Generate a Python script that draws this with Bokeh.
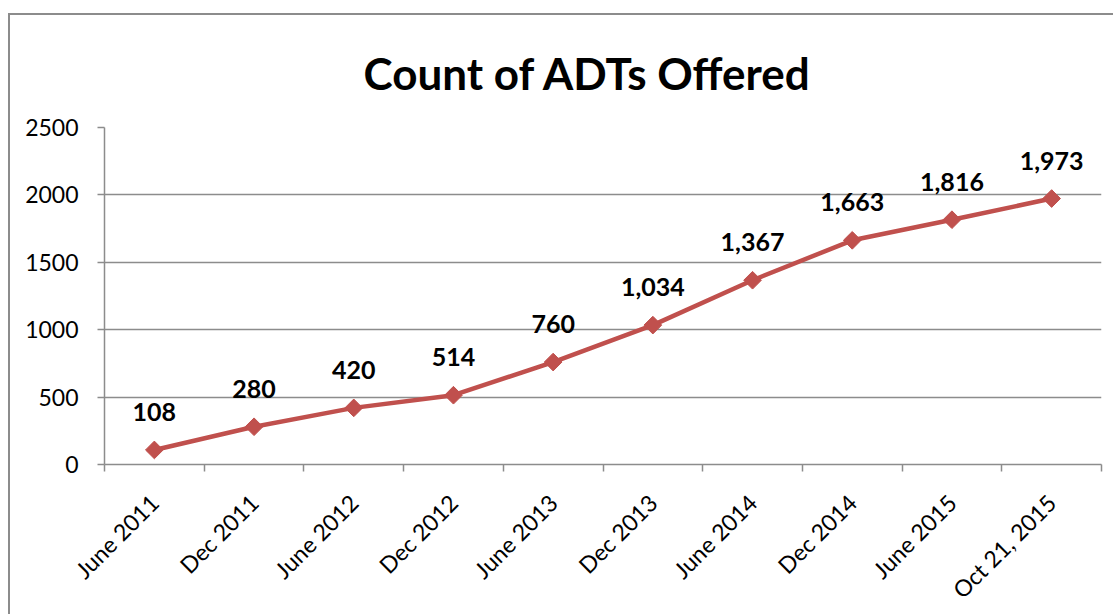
import math
from bokeh.plotting import figure
from bokeh.models import ColumnDataSource, FixedTicker, Range1d, Title
from bokeh.core.properties import value
from bokeh.embed import file_html
from bokeh.resources import INLINE

categories = ["June 2011", "Dec 2011", "June 2012", "Dec 2012", "June 2013",
              "Dec 2013", "June 2014", "Dec 2014", "June 2015", "Oct 21, 2015"]
counts = [108, 280, 420, 514, 760, 1034, 1367, 1663, 1816, 1973]
y_ticks = [0, 500, 1000, 1500, 2000, 2500]
title_text = "Count of ADTs Offered"

FONT = "Lato"
RED = "#C0504D"
GREY = "#8C8C8C"

xs = list(range(len(categories)))
src = ColumnDataSource(dict(
    x=xs, y=counts, label=[f"{c:,}" for c in counts]))

p = figure(width=1105, height=601, output_backend="svg", toolbar_location=None,
           x_range=Range1d(-0.5, len(categories) - 0.5),
           y_range=Range1d(0, 2500),
           min_border_left=94, min_border_right=14, min_border_top=111,
           min_border_bottom=151)

t = Title(text=title_text, align="left", offset=259, text_font=FONT,
          text_font_size="44px", text_font_style="bold", text_color="black",
          standoff=58)
p.add_layout(t, "above")

p.outline_line_color = None
p.background_fill_color = "white"
p.border_fill_color = "white"

# axes
p.xaxis.ticker = FixedTicker(ticks=xs, minor_ticks=[i - 0.5 for i in range(len(categories) + 1)])
p.xaxis.major_label_overrides = {i: c for i, c in enumerate(categories)}
p.xaxis.major_label_orientation = math.pi / 4
p.xaxis.major_tick_out = 0
p.xaxis.major_tick_in = 0
p.xaxis.minor_tick_out = 7
p.xaxis.minor_tick_in = 0
p.xaxis.minor_tick_line_color = GREY
p.xaxis.minor_tick_line_width = 1.5
p.xaxis.axis_line_color = GREY
p.xaxis.axis_line_width = 1.5
p.xaxis.major_label_text_font = FONT
p.xaxis.major_label_text_font_size = "23px"
p.xaxis.major_label_text_color = "black"
p.xaxis.major_label_standoff = 27

p.yaxis.ticker = FixedTicker(ticks=y_ticks, minor_ticks=[])
p.yaxis.major_tick_out = 7
p.yaxis.major_tick_in = 0
p.yaxis.major_tick_line_color = GREY
p.yaxis.major_tick_line_width = 1.5
p.yaxis.axis_line_color = GREY
p.yaxis.axis_line_width = 1.5
p.yaxis.major_label_text_font = FONT
p.yaxis.major_label_text_font_size = "23px"
p.yaxis.major_label_text_color = "black"
p.yaxis.major_label_standoff = 19

p.xgrid.grid_line_color = None
p.ygrid.ticker = FixedTicker(ticks=y_ticks)
p.ygrid.grid_line_color = GREY
p.ygrid.grid_line_width = 1.5

p.line("x", "y", source=src, line_color=RED, line_width=4.5)
p.scatter("x", "y", source=src, marker="square", angle=math.pi / 4, size=12.5,
          fill_color=RED, line_color=RED)
p.text("x", "y", text="label", source=src, y_offset=-38, text_align="center",
       text_baseline="middle", text_font=value(FONT), text_font_size="25px",
       text_font_style="bold", text_color="black")

p.styles = {"border-top": "2px solid #8C8C8C", "border-left": "2px solid #8C8C8C",
            "margin-top": "13px", "margin-left": "8px"}

open("out.html", "w").write(file_html(p, INLINE))
